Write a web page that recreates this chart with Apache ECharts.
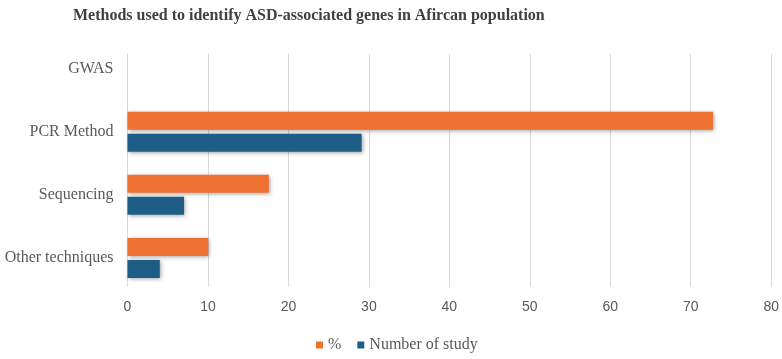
<!DOCTYPE html>
<html><head><meta charset="utf-8">
<script src="https://cdn.jsdelivr.net/npm/echarts@6/dist/echarts.min.js"></script>
<style>html,body{margin:0;padding:0;background:#fff}#c{width:782px;height:359px}</style>
</head><body><div id="c"></div>
<script>
const categories = ['GWAS', 'PCR Method', 'Sequencing', 'Other techniques'];
const percentValues = [0, 72.5, 17.5, 10];
const studyValues = [0, 29, 7, 4];
const xTicks = [0, 10, 20, 30, 40, 50, 60, 70, 80];

const chart = echarts.init(document.getElementById('c'), null, {renderer: 'canvas'});
const xMin = xTicks[0], xMax = xTicks[xTicks.length - 1];
chart.setOption({
  animation: false,
  backgroundColor: '#fff',
  title: {
    text: 'Methods used to identify ASD-associated genes in Afircan population',
    left: 68, top: 3,
    textStyle: {fontFamily: 'Liberation Serif', fontWeight: 'bold', fontSize: 16, color: '#404040'}
  },
  legend: {
    data: ['%', 'Number of study'],
    bottom: 1, left: 311,
    itemWidth: 7, itemHeight: 7, itemGap: 16,
    icon: 'rect',
    textStyle: {fontFamily: 'Liberation Serif', fontSize: 16, color: '#595959'}
  },
  grid: [
    {left: 127.5, right: 8.5, top: 37, bottom: 69.5},
    {left: 127.5, right: 8.5, top: 54, bottom: 72}
  ],
  xAxis: [
    {gridIndex: 0, type: 'value', min: xMin, max: xMax, interval: 10, show: false,
     splitLine: {show: false}},
    {gridIndex: 1, type: 'value', min: xMin, max: xMax, interval: 10,
     axisLine: {show: false}, axisTick: {show: false},
     splitLine: {lineStyle: {color: '#d9d9d9', width: 1}},
     axisLabel: {fontFamily: 'Liberation Sans', fontSize: 14, color: '#595959', margin: 13}}
  ],
  yAxis: [
    {gridIndex: 0, type: 'category', data: categories, inverse: true,
     axisLine: {show: false}, axisTick: {show: false},
     axisLabel: {fontFamily: 'Liberation Serif', fontSize: 16, color: '#595959', margin: 14}},
    {gridIndex: 1, type: 'category', data: categories, show: false}
  ],
  series: [
    {name: '%', type: 'bar', data: percentValues, barWidth: 18, barGap: '22%', z: 3,
     itemStyle: {color: '#EE7131', shadowColor: 'rgba(0,0,0,0.35)', shadowBlur: 4, shadowOffsetX: 1, shadowOffsetY: 1}},
    {name: 'Number of study', type: 'bar', data: studyValues, barWidth: 18, z: 3,
     itemStyle: {color: '#1E5E86', shadowColor: 'rgba(0,0,0,0.35)', shadowBlur: 4, shadowOffsetX: 1, shadowOffsetY: 1}}
  ]
});
</script></body></html>
